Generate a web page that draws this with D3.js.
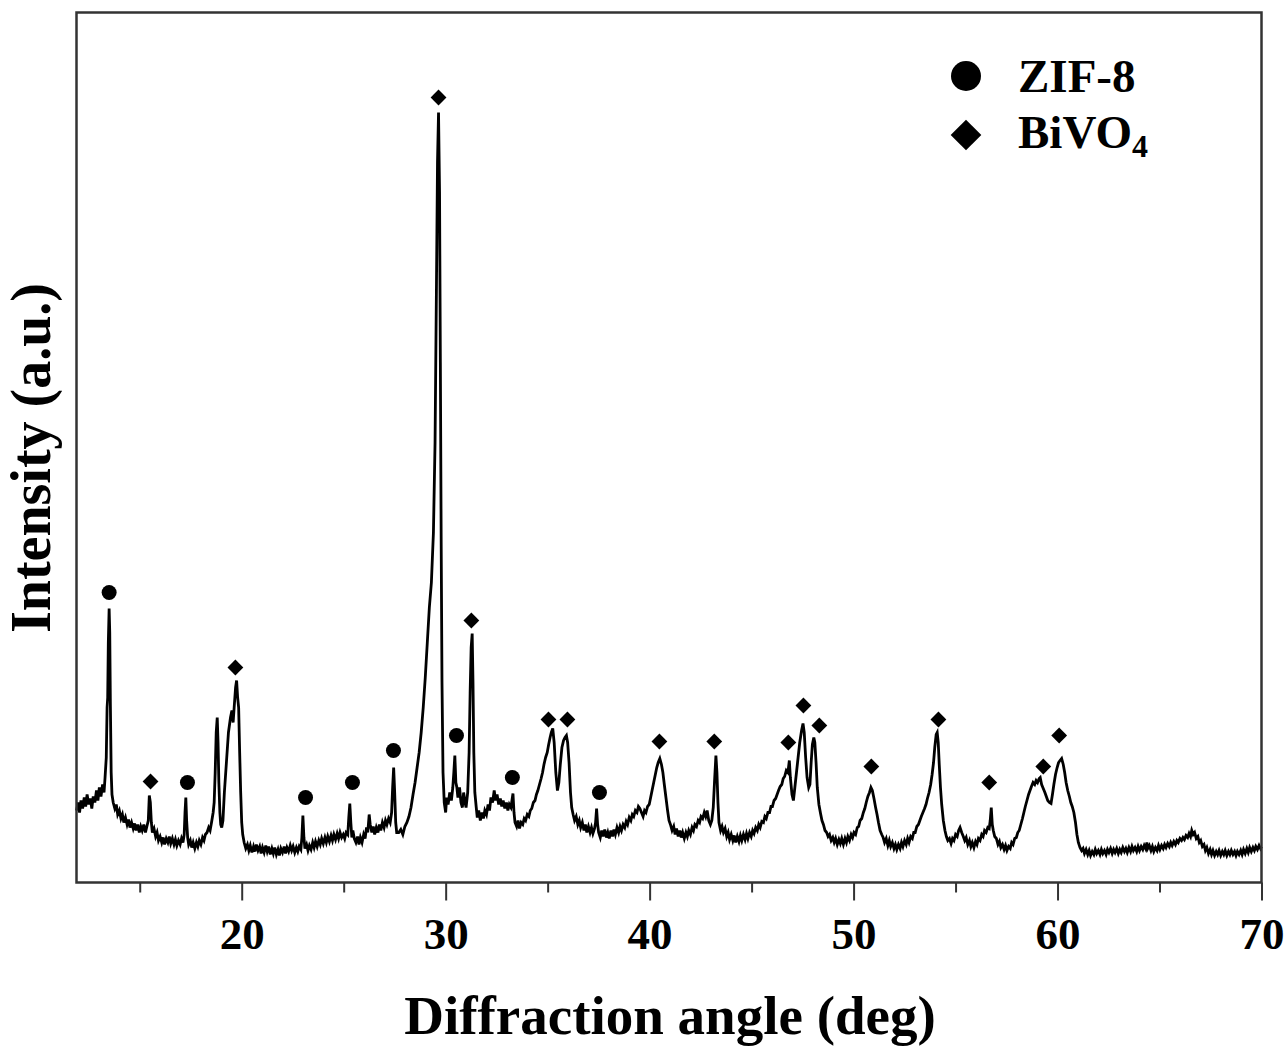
<!DOCTYPE html>
<head>
<meta charset="utf-8">
<title>XRD - ZIF-8 / BiVO4</title>
<style>
  body { margin: 0; background: #fff; }
  text { font-family: "Liberation Serif", "Times New Roman", serif; font-weight: bold; fill: #000; }
</style>
</head>
<body>
<script src="https://d3js.org/d3.v7.min.js"></script>
<script>
// diffraction pattern, [2theta (deg), intensity (a.u.)]
const pattern = [
  [11.90,72],[11.98,80],[12.05,70],[12.12,82],[12.2,74],[12.28,85],[12.35,76],[12.42,88],[12.5,78],[12.58,84],[12.65,74],[12.72,86],[12.8,80],[12.88,92],[12.95,82],[13.02,95],[13.1,86],[13.18,98],[13.25,90],[13.3,105],
  [13.36,125],[13.4,175],[13.43,185],[13.46,240],[13.5,274],[13.53,250],[13.56,180],[13.6,110],[13.64,88],[13.7,80],
  [13.78,74],[13.85,78],[13.92,68],[14.0,72],[14.08,64],[14.15,68],[14.22,60],[14.3,65],[14.38,58],[14.45,63],[14.52,55],[14.6,60],[14.68,54],[14.75,59],[14.82,52],[14.9,58],[14.98,50],[15.05,56],[15.12,52],[15.2,58],[15.28,50],[15.35,56],
  [15.42,62],[15.47,87],[15.52,80],[15.57,60],[15.62,50],
  [15.7,54],[15.78,46],[15.85,50],[15.92,42],[16.0,46],[16.08,40],[16.15,45],[16.22,38],[16.3,44],[16.38,40],[16.45,46],[16.52,39],[16.6,44],[16.68,38],[16.75,43],[16.82,37],[16.9,42],[16.98,38],[17.05,44],[17.12,40],[17.18,48],
  [17.22,70],[17.26,85],[17.3,62],[17.35,45],[17.4,38],
  [17.48,42],[17.55,35],[17.62,40],[17.7,34],[17.78,40],[17.85,36],[17.92,42],[18.0,38],[18.08,45],[18.15,42],[18.22,48],[18.3,50],[18.38,55],[18.45,52],[18.52,60],[18.6,70],[18.65,80],
  [18.7,110],[18.75,150],[18.8,165],[18.84,140],[18.88,100],[18.93,70],[18.97,58],
  [19.02,55],[19.08,62],[19.15,90],[19.25,120],[19.35,150],[19.45,165],[19.52,172],[19.58,160],[19.63,175],[19.7,195],[19.75,202],[19.8,185],[19.85,175],[19.9,130],[19.95,90],[20.0,60],[20.05,48],
  [20.12,40],[20.2,34],[20.28,38],[20.35,32],[20.42,37],[20.5,30],[20.58,36],[20.65,31],[20.72,38],[20.8,32],[20.88,36],[20.95,29],[21.02,35],[21.1,30],[21.18,37],[21.25,31],[21.32,36],[21.4,28],[21.48,34],[21.55,29],[21.62,35],[21.7,28],[21.78,33],[21.85,27],[21.92,34],[22.0,30],[22.08,36],[22.15,29],[22.22,35],[22.3,31],[22.38,37],[22.45,32],[22.52,36],[22.6,30],[22.68,35],[22.75,31],[22.82,36],[22.9,33],
  [22.95,45],[23.0,67],[23.05,45],[23.1,34],
  [23.18,38],[23.25,32],[23.32,37],[23.4,33],[23.48,40],[23.55,35],[23.62,41],[23.7,36],[23.78,42],[23.85,38],[23.92,44],[24.0,39],[24.08,45],[24.15,40],[24.22,46],[24.3,41],[24.38,47],[24.45,42],[24.52,48],[24.6,43],[24.68,49],[24.75,44],[24.82,50],[24.9,45],[24.98,48],[25.05,44],[25.12,50],[25.2,48],
  [25.25,65],[25.3,79],[25.35,60],[25.4,45],
  [25.45,52],[25.52,44],[25.6,40],[25.68,46],[25.75,38],[25.82,45],[25.9,40],[25.98,48],[26.05,44],[26.12,55],[26.18,50],[26.25,68],[26.3,58],[26.38,50],[26.45,56],[26.52,48],[26.6,55],[26.68,50],[26.75,58],[26.82,52],[26.9,60],[26.98,55],[27.05,62],[27.12,58],[27.2,64],[27.28,60],[27.35,70],
  [27.4,95],[27.45,115],[27.5,90],[27.55,60],[27.6,50],
  [27.7,50],[27.8,53],[27.9,48],[28.0,56],[28.1,60],[28.2,66],[28.3,75],[28.4,88],[28.5,100],[28.6,115],[28.7,130],[28.8,150],[28.9,175],[29.0,205],[29.1,240],[29.2,275],[29.3,300],[29.4,350],[29.48,440],[29.55,600],[29.6,720],[29.65,770],[29.7,690],[29.74,520],[29.78,340],[29.82,200],[29.87,110],[29.93,80],[30.0,70],
  [30.05,85],[30.12,78],[30.2,90],[30.28,82],[30.35,95],[30.4,110],[30.45,127],[30.5,100],[30.55,95],[30.6,85],[30.68,95],[30.75,80],[30.82,75],[30.88,90],[30.95,80],[31.0,75],[31.08,90],
  [31.15,130],[31.2,190],[31.25,235],[31.3,249],[31.34,200],[31.38,130],[31.43,90],[31.5,75],[31.55,65],
  [31.62,72],[31.7,62],[31.78,70],[31.85,64],[31.92,72],[32.0,68],[32.08,78],[32.15,72],[32.22,85],[32.3,80],[32.38,92],[32.45,82],[32.52,88],[32.6,78],[32.68,84],[32.75,76],[32.82,82],[32.9,74],[32.98,80],[33.05,72],[33.12,78],[33.2,75],
  [33.25,82],[33.3,89],[33.35,70],[33.4,60],[33.48,56],[33.55,62],[33.62,54],[33.7,60],[33.78,58],[33.85,64],[33.92,62],[34.0,68],[34.08,66],[34.15,72],[34.22,74],[34.3,80],[34.38,82],[34.45,88],[34.52,92],[34.6,98],[34.68,104],[34.75,110],[34.82,118],[34.9,125],[34.98,130],[35.05,138],[35.12,145],[35.18,150],[35.25,154],[35.32,140],[35.4,110],[35.48,92],[35.55,100],[35.62,118],[35.7,135],[35.78,142],[35.85,145],[35.92,147],[35.98,140],[36.05,120],[36.12,90],[36.18,75],[36.25,68],
  [36.32,62],[36.4,66],[36.48,58],[36.55,62],[36.62,55],[36.7,60],[36.78,52],[36.85,58],[36.92,50],[37.0,56],[37.08,50],[37.15,55],[37.22,49],[37.3,54],[37.35,60],[37.4,74],[37.45,58],[37.5,50],[37.58,45],[37.65,52],[37.72,46],[37.8,53],[37.88,45],[37.95,50],[38.02,44],[38.1,52],[38.18,46],[38.25,53],[38.32,48],[38.4,55],[38.48,50],[38.55,56],[38.62,52],[38.7,58],[38.78,55],[38.85,61],[38.92,58],[39.0,65],[39.08,62],[39.15,68],[39.22,66],[39.3,72],[39.38,70],[39.45,76],[39.52,74],
  [39.6,70],[39.68,66],[39.75,72],[39.82,70],[39.9,76],[39.98,78],[40.05,85],[40.12,92],[40.2,100],[40.28,108],[40.35,115],[40.42,120],[40.5,124],[40.58,118],[40.65,110],[40.72,98],[40.8,85],[40.88,72],[40.95,62],[41.02,58],[41.1,52],[41.18,56],[41.25,48],[41.32,54],[41.4,46],[41.48,52],[41.55,45],[41.62,50],[41.7,44],[41.78,50],[41.85,46],[41.92,52],[42.0,48],[42.08,55],[42.15,52],[42.22,58],[42.3,56],[42.38,62],[42.45,60],[42.52,66],[42.6,64],[42.68,70],[42.75,66],[42.82,72],[42.9,62],[42.98,58],[43.05,62],[43.12,75],[43.18,100],[43.25,127],[43.3,110],[43.35,80],[43.4,60],[43.48,52],
  [43.55,56],[43.62,50],[43.7,54],[43.78,46],[43.85,50],[43.92,43],[44.0,48],[44.08,42],[44.15,47],[44.22,40],[44.3,46],[44.38,41],[44.45,47],[44.52,42],[44.6,48],[44.68,43],[44.75,49],[44.82,44],[44.9,50],[44.98,46],[45.05,52],[45.12,49],[45.2,55],[45.28,52],[45.35,58],[45.42,55],[45.5,61],[45.58,60],[45.65,66],[45.72,64],[45.8,70],[45.88,70],[45.95,76],[46.02,76],[46.1,82],[46.18,84],[46.25,88],[46.32,92],[46.4,96],[46.48,98],[46.55,104],[46.62,106],[46.7,112],[46.78,110],[46.85,122],[46.9,105],[46.98,88],[47.05,82],[47.12,95],[47.2,110],[47.28,125],[47.36,140],[47.45,152],[47.52,159],[47.58,150],[47.65,125],[47.72,105],[47.8,95],[47.86,98],[47.92,120],[47.98,138],[48.05,145],[48.1,140],[48.16,120],[48.22,95],[48.3,78],[48.38,69],[48.45,62],[48.52,58],[48.6,52],[48.68,50],[48.75,46],[48.82,48],[48.9,42],[48.98,45],[49.05,40],[49.12,44],[49.2,38],[49.28,43],[49.35,39],[49.42,44],[49.5,38],[49.58,44],[49.65,40],[49.72,46],[49.8,42],[49.88,48],[49.95,45],[50.02,50],[50.1,48],[50.18,55],[50.25,56],[50.32,62],[50.4,64],[50.48,70],[50.55,74],[50.62,80],[50.7,86],[50.78,90],[50.85,95],[50.92,92],[51.0,84],[51.08,75],[51.15,68],[51.22,60],[51.3,52],[51.38,48],[51.45,45],[51.52,40],[51.6,44],[51.68,37],[51.75,42],[51.82,36],[51.9,40],[51.98,34],[52.05,38],[52.12,33],[52.2,38],[52.28,34],[52.35,40],[52.42,36],[52.5,42],[52.58,38],[52.65,44],[52.72,40],[52.8,46],[52.88,44],[52.95,50],[53.02,50],[53.1,56],[53.18,58],[53.25,62],[53.32,66],[53.4,70],[53.48,74],[53.55,78],[53.62,84],[53.7,90],[53.78,98],[53.85,108],[53.92,120],[53.98,135],[54.05,148],[54.1,150],[54.15,140],[54.2,118],[54.26,95],[54.32,78],[54.4,62],[54.48,52],[54.55,46],[54.62,42],[54.7,44],[54.78,39],
  [54.85,44],[54.92,42],[55.0,48],[55.08,46],[55.15,52],[55.22,55],[55.3,50],[55.38,46],[55.45,42],[55.52,45],[55.6,38],[55.68,42],[55.75,36],[55.82,40],[55.9,35],[55.98,41],[56.05,38],[56.12,44],[56.2,42],[56.28,48],[56.35,46],[56.42,52],[56.5,50],[56.58,55],[56.65,54],[56.7,62],[56.75,75],[56.8,58],[56.85,52],[56.92,46],[57.0,44],[57.08,38],[57.15,41],[57.22,35],[57.3,38],[57.38,33],[57.45,37],[57.52,32],[57.6,36],[57.68,34],[57.75,40],[57.82,38],[57.9,44],[57.98,45],[58.05,50],[58.12,52],[58.2,58],[58.28,64],[58.35,70],[58.42,76],[58.5,82],[58.58,88],[58.65,92],[58.72,96],[58.8,100],[58.88,98],[58.95,102],[59.02,100],[59.1,104],[59.15,105],[59.22,98],[59.3,94],[59.38,90],[59.45,86],[59.52,82],[59.6,80],[59.68,79],[59.75,88],[59.82,98],[59.9,108],[59.98,115],[60.05,120],[60.12,122],[60.2,124],[60.28,118],[60.35,110],[60.42,100],[60.5,92],[60.58,86],[60.65,80],[60.72,76],[60.8,70],[60.88,60],[60.95,48],[61.02,40],[61.1,35],[61.18,32],
  [61.25,34],[61.32,29],[61.4,33],[61.48,28],[61.55,32],[61.62,27],[61.7,31],[61.78,28],[61.85,33],[61.92,29],[62.0,32],[62.08,28],[62.15,33],[62.22,29],[62.3,32],[62.38,28],[62.45,33],[62.52,30],[62.6,34],[62.68,29],[62.75,33],[62.82,30],[62.9,34],[62.98,29],[63.05,33],[63.12,30],[63.2,35],[63.28,31],[63.35,34],[63.42,30],[63.5,35],[63.58,31],[63.65,36],[63.72,32],[63.8,35],[63.88,31],[63.95,36],[64.02,32],[64.1,36],[64.18,33],[64.25,37],[64.32,34],[64.38,40],[64.42,34],[64.5,37],[64.58,32],[64.65,36],[64.72,31],[64.8,35],[64.88,32],[64.95,37],[65.02,33],[65.1,37],[65.18,34],[65.25,38],[65.32,35],[65.4,39],[65.48,36],[65.55,40],[65.62,37],[65.7,41],[65.78,38],[65.85,42],[65.92,40],[66.0,44],[66.08,42],[66.15,45],[66.22,43],[66.3,47],[66.38,45],[66.45,49],[66.52,46],[66.58,52],[66.65,48],[66.72,50],[66.8,44],[66.88,46],[66.95,40],[67.02,42],[67.1,36],[67.18,38],[67.25,32],[67.32,35],[67.4,29],[67.48,33],[67.55,28],[67.62,32],[67.7,27],[67.78,31],[67.85,28],[67.92,32],[68.0,27],[68.08,31],[68.15,28],[68.22,32],[68.3,27],[68.38,31],[68.45,28],[68.52,32],[68.6,28],[68.68,31],[68.75,27],[68.82,31],[68.9,28],[68.98,32],[69.05,28],[69.12,33],[69.2,29],[69.28,34],[69.35,30],[69.42,35],[69.5,31],[69.58,35],[69.65,32],[69.72,36],[69.8,33],[69.88,37],[69.95,34],[70.0,36]
];

// phase markers [angle, height above axis]
const zifPeaks = [[13.5,290],[17.34,100],[23.13,85],[25.43,100],[27.44,132],[30.53,147],[33.27,105],[37.54,90]];
const bivo4Peaks = [[15.53,101],[19.69,215],[29.65,785],[31.26,262],[35.04,163],[35.97,163],[40.48,141],[43.17,141],
  [46.8,140],[47.54,177],[48.32,157],[50.87,116],[54.16,163],[56.65,100],[59.3,116],[60.08,147]];

const majorTicks = [20, 30, 40, 50, 60, 70];
const minorTicks = [15, 25, 35, 45, 55, 65];

let width = 1286;
let height = 1048;
let plotLeft = 76.5, plotRight = 1261.5, plotTop = 12.5, plotBottom = 882.5;

let svg = d3.select("body").append("svg")
  .attr("width", width)
  .attr("height", height);

let x = d3.scaleLinear()
  .domain([11.9, 70])
  .range([plotLeft, plotRight]);

let y = d3.scaleLinear()
  .domain([0, 870])
  .range([plotBottom, plotTop]);

// pattern line
let line = d3.line()
  .x(d => x(d[0]))
  .y(d => y(d[1]));

svg.append("path")
  .datum(pattern)
  .attr("fill", "none")
  .attr("stroke", "#000")
  .attr("stroke-width", 2.8)
  .attr("stroke-linejoin", "miter")
  .attr("d", line);

// markers over the peaks
svg.selectAll(".zif")
  .data(zifPeaks)
  .enter()
  .append("circle")
  .attr("class", "zif")
  .attr("cx", d => x(d[0]))
  .attr("cy", d => y(d[1]))
  .attr("r", 7.5)
  .attr("fill", "#000");

let diamond = d3.symbol().type(d3.symbolSquare).size(125);

svg.selectAll(".bivo4")
  .data(bivo4Peaks)
  .enter()
  .append("path")
  .attr("class", "bivo4")
  .attr("d", diamond)
  .attr("transform", d => `translate(${x(d[0])},${y(d[1])}) rotate(45)`)
  .attr("fill", "#000");

// x axis, major + minor ticks
let xAxis = d3.axisBottom(x)
  .tickValues(majorTicks)
  .tickSize(18)
  .tickPadding(10);

let gx = svg.append("g")
  .attr("transform", `translate(0,${plotBottom})`)
  .call(xAxis);
gx.select(".domain").remove();
gx.selectAll("line").attr("stroke", "#333").attr("stroke-width", 2);
gx.selectAll("text")
  .attr("font-size", 45)
  .attr("font-family", "'Liberation Serif', serif")
  .attr("font-weight", "bold")
  .attr("fill", "#000")
  .attr("dy", "0")
  .attr("y", 66);

let gxMinor = svg.append("g")
  .attr("transform", `translate(0,${plotBottom})`)
  .call(d3.axisBottom(x).tickValues(minorTicks).tickSize(10).tickFormat(""));
gxMinor.select(".domain").remove();
gxMinor.selectAll("line").attr("stroke", "#333").attr("stroke-width", 2);

// frame
svg.append("rect")
  .attr("x", plotLeft)
  .attr("y", plotTop)
  .attr("width", plotRight - plotLeft)
  .attr("height", plotBottom - plotTop)
  .attr("fill", "none")
  .attr("stroke", "#333")
  .attr("stroke-width", 2.5);

// axis titles
svg.append("text")
  .attr("x", (plotLeft + plotRight) / 2 + 1)
  .attr("y", 1034)
  .attr("text-anchor", "middle")
  .style("font-size", "55px")
  .text("Diffraction angle (deg)");

svg.append("text")
  .attr("transform", "translate(50,458) rotate(-90)")
  .attr("text-anchor", "middle")
  .style("font-size", "56px")
  .text("Intensity (a.u.)");

// legend
svg.append("circle")
  .attr("cx", 966)
  .attr("cy", 76)
  .attr("r", 15)
  .attr("fill", "#000");

svg.append("path")
  .attr("d", d3.symbol().type(d3.symbolSquare).size(470))
  .attr("transform", "translate(966,135) rotate(45)")
  .attr("fill", "#000");

svg.append("text")
  .attr("x", 1018)
  .attr("y", 92)
  .style("font-size", "47px")
  .text("ZIF-8");

let bivo = svg.append("text")
  .attr("x", 1018)
  .attr("y", 148)
  .style("font-size", "47px");
bivo.append("tspan").text("BiVO");
bivo.append("tspan")
  .attr("dy", 9)
  .style("font-size", "32px")
  .text("4");
</script>
</body>
